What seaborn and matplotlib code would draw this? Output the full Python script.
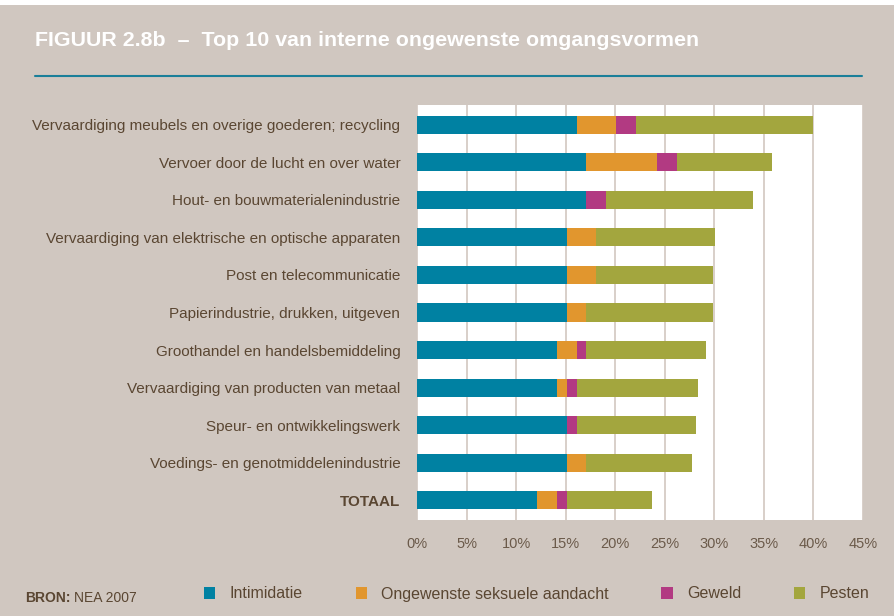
import matplotlib
matplotlib.use("Agg")
import matplotlib.pyplot as plt
import seaborn as sns
import pandas as pd
import numpy as np
from matplotlib.patches import Rectangle
from matplotlib.lines import Line2D

categories = [
    "Vervaardiging meubels en overige goederen; recycling",
    "Vervoer door de lucht en over water",
    "Hout- en bouwmaterialenindustrie",
    "Vervaardiging van elektrische en optische apparaten",
    "Post en telecommunicatie",
    "Papierindustrie, drukken, uitgeven",
    "Groothandel en handelsbemiddeling",
    "Vervaardiging van producten van metaal",
    "Speur- en ontwikkelingswerk",
    "Voedings- en genotmiddelenindustrie",
    "TOTAAL",
]
intimidatie = [16.1, 17.1, 17.1, 15.1, 15.1, 15.1, 14.1, 14.1, 15.1, 15.1, 12.1]
seksuele = [4.0, 7.1, 0.0, 3.0, 3.0, 2.0, 2.0, 1.0, 0.0, 2.0, 2.0]
geweld = [2.0, 2.0, 2.0, 0.0, 0.0, 0.0, 1.0, 1.0, 1.0, 0.0, 1.0]
pesten = [17.9, 9.6, 14.8, 12.0, 11.8, 12.8, 12.1, 12.3, 12.1, 10.6, 8.6]
series_names = ["Intimidatie", "Ongewenste seksuele aandacht", "Geweld", "Pesten"]
colors = ["#0081A2", "#E1962E", "#B23A82", "#A3A63E"]
xticks = [0, 5, 10, 15, 20, 25, 30, 35, 40, 45]

BG = "#D0C7C0"
TXT = "#5A4632"

sns.set_theme(style="white")
plt.rcParams["font.family"] = ["Liberation Sans", "DejaVu Sans"]

df = pd.DataFrame({
    "cat": categories,
    "s0": intimidatie, "s1": seksuele, "s2": geweld, "s3": pesten,
})
cum = np.cumsum(df[["s0", "s1", "s2", "s3"]].to_numpy(), axis=1)

fig = plt.figure(figsize=(8.94, 6.16), dpi=100, facecolor=BG)
fig.patches.append(Rectangle((0, 1 - 5 / 616), 1, 5 / 616, transform=fig.transFigure,
                             facecolor="white", edgecolor="none", zorder=0))
ax = fig.add_axes([417 / 894, 1 - 520 / 616, (863 - 417) / 894, (520 - 105) / 616])
ax.set_facecolor("white")

for i in [3, 2, 1, 0]:
    d = pd.DataFrame({"cat": categories, "val": cum[:, i]})
    sns.barplot(data=d, y="cat", x="val", order=categories, color=colors[i],
                width=0.48, saturation=1, ax=ax, label=series_names[i],
                edgecolor="none", linewidth=0, zorder=3)

h, l = ax.get_legend_handles_labels()
if ax.get_legend() is not None:
    ax.get_legend().remove()

ax.set_xlim(0, 45)
ax.set_ylim(10.53, -0.53)
ax.set_xticks(xticks)
ax.set_xticklabels([f"{t}%" for t in xticks])
ax.set_xlabel("")
ax.set_ylabel("")
ax.set_axisbelow(True)
ax.xaxis.grid(True, color="#D8CFC9", linewidth=1.4, zorder=0)
ax.yaxis.grid(False)
for s in ax.spines.values():
    s.set_visible(False)
ax.tick_params(axis="y", length=0, pad=12, labelsize=11, labelcolor=TXT)
ax.tick_params(axis="x", length=0, pad=12, labelsize=10.5, labelcolor="#6B5A4A")
ylabels = ax.get_yticklabels()
ylabels[-1].set_fontweight("bold")

# title and rule
fig.text(35 / 894, 1 - 41 / 616, "FIGUUR 2.8b  \u2013  Top 10 van interne ongewenste omgangsvormen",
         color="white", fontsize=15.4, fontweight="bold", va="center", ha="left")
fig.add_artist(Line2D([35 / 894, 862 / 894], [1 - 76 / 616, 1 - 76 / 616],
                      transform=fig.transFigure, color="#1A7F99", linewidth=1.5))

# legend
order = [l.index(n) for n in series_names]
leg = fig.legend([h[k] for k in order], [l[k] for k in order], ncol=4, frameon=False,
                 loc="center left", bbox_to_anchor=(201 / 894, 1 - 594 / 616),
                 handlelength=0.7, handleheight=0.8, handletextpad=0.9,
                 columnspacing=3.3, borderpad=0.2, borderaxespad=0, prop={"size": 11.5})
for t in leg.get_texts():
    t.set_color(TXT)

fig.text(25 / 894, 1 - 598 / 616, "BRON:", color=TXT, fontsize=10, fontweight="bold",
         va="center", ha="left")
fig.text(74 / 894, 1 - 598 / 616, "NEA 2007", color=TXT, fontsize=10,
         va="center", ha="left")

fig.savefig("out.png", dpi=100, facecolor=BG)
